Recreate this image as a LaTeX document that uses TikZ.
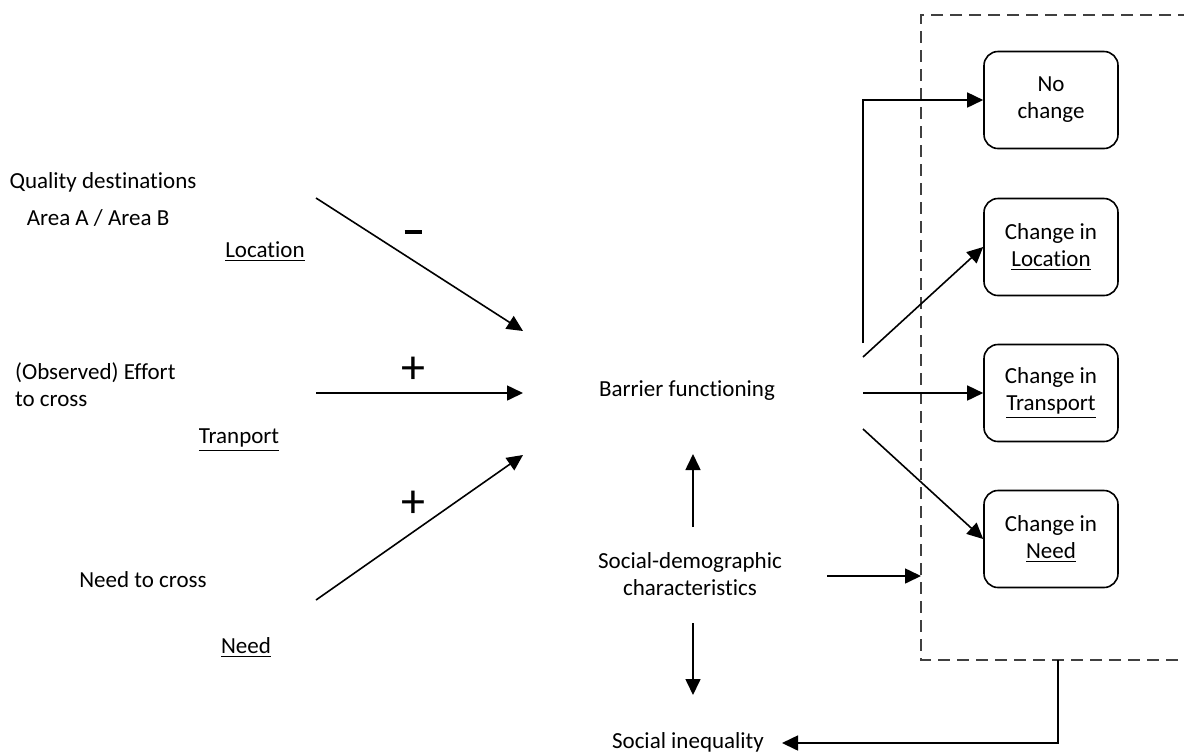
\documentclass[tikz,border=0pt]{standalone}
\usepackage{fontspec}
\setmainfont[RawFeature=-liga]{Carlito}
\usetikzlibrary{arrows.meta}

\begin{document}
\begin{tikzpicture}[x=0.5pt,y=-0.5pt,>={Triangle[length=8pt,width=7.5pt]},
  every node/.style={font=\fontsize{11.5}{13.5}\selectfont},
  link/.style={->,line width=0.8pt},
  frame/.style={dashed,dash pattern=on 6pt off 3.5pt,line width=0.6pt,black!75},
  outcome/.style={draw,line width=0.8pt,rounded corners=7pt,minimum width=67pt,
    minimum height=48.5pt,align=center,inner sep=2pt},
  sign/.style={font=\fontsize{24}{24}\selectfont}]
  \useasboundingbox (0,0) rectangle (1184,751);

  % Left column: factors
  \node (qual) at (103,182) {Quality destinations};
  \node (area) at (98,218) {Area A / Area B};
  \node (loc) at (265,252) {\underline{Location}};
  \node[anchor=west,align=left] (effort) at (8,385) {(Observed) Effort\\to cross};
  \node (tran) at (239,440) {\underline{Tranport}};
  \node (needx) at (143,580) {Need to cross};
  \node (need) at (246,648) {\underline{Need}};

  % Middle column
  \node (barrier) at (687,391) {Barrier functioning};
  \node[align=center] (socdem) at (690,574) {Social-demographic\\characteristics};
  \node (ineq) at (688,742) {Social inequality};

  % Outcomes (dashed frame runs off the right edge)
  \draw[frame] (1190,15) -- (921,15) -- (921,660) -- (1190,660);
  \node[outcome] (nochg) at (1051,100) {No\\change};
  \node[outcome] (chloc) at (1051,247) {Change in\\\underline{Location}};
  \node[outcome] (chtra) at (1051,393) {Change in\\\underline{Transport}};
  \node[outcome] (chneed) at (1051,539) {Change in\\\underline{Need}};

  % Free ends of the connectors
  \coordinate (locS) at (316,198);  \coordinate (locE) at (523,331);
  \coordinate (traS) at (316,393);  \coordinate (traE) at (523,393);
  \coordinate (neeS) at (316,600);  \coordinate (neeE) at (523,455);
  \coordinate (outA) at (863,343);  \coordinate (outB) at (863,357);
  \coordinate (outC) at (863,393);  \coordinate (outD) at (863,429);
  \coordinate (upS) at (693,527);   \coordinate (upE) at (693,454);
  \coordinate (dnS) at (693,623);   \coordinate (dnE) at (693,695);
  \coordinate (sdS) at (827,576);   \coordinate (sdE) at (921,576);
  \coordinate (fbS) at (1058,660);  \coordinate (fbE) at (782,743);

  % Factors into barrier functioning
  \draw[link] (locS) -- (locE);
  \draw[link] (traS) -- (traE);
  \draw[link] (neeS) -- (neeE);
  \node[sign] (minus) at (413,232) {\rule{8.5pt}{2pt}};
  \node[sign] (plusA) at (413,370) {+};
  \node[sign] (plusB) at (413,504) {+};

  % Barrier functioning to outcomes
  \draw[link] (outA) |- (nochg.west);
  \draw[link] (outB) -- (chloc.west);
  \draw[link] (outC) -- (chtra.west);
  \draw[link] (outD) -- (chneed.west);

  % Social-demographic characteristics
  \draw[link] (upS) -- (upE);
  \draw[link] (dnS) -- (dnE);
  \draw[link] (sdS) -- (sdE);
  \draw[link] (fbS) |- (fbE);
\end{tikzpicture}
\end{document}
